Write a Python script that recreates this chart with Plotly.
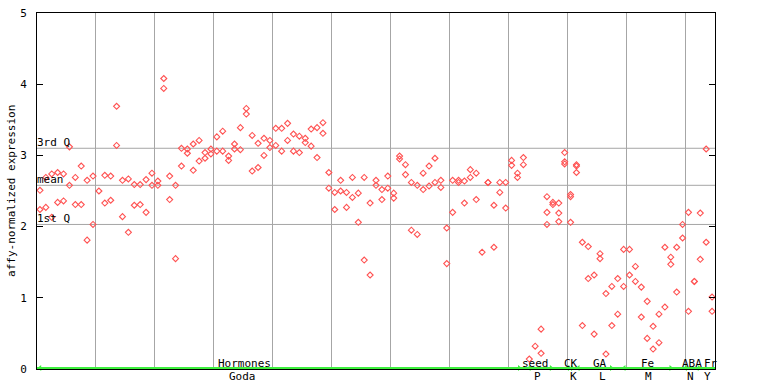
import plotly.graph_objects as go

# ---------------- data ----------------
rep_a = [2.51, 2.69, 2.74, 2.76, 2.74, 3.12, 2.69, 2.85, 2.65, 2.71,
         2.50, 2.72, 2.71, 3.69, 2.65, 2.67, 2.59, 2.59, 2.66, 2.75,
         2.64, 4.08, 2.71, 2.58, 3.10, 3.09, 3.16, 3.21, 3.04, 3.09,
         3.26, 3.34, 2.99, 3.16, 3.39, 3.66, 3.28, 3.17, 3.24, 3.21,
         3.38, 3.38, 3.45, 3.30, 3.27, 3.24, 3.37, 3.39, 3.46, 2.76,
         2.48, 2.65, 2.48, 2.69, 2.47, 2.69, 2.33, 2.65, 2.52, 2.71,
         2.47, 2.99, 2.87, 2.62, 2.58, 2.75, 2.85, 2.96, 2.65, 1.98,
         2.65, 2.65, 2.64, 2.80, 2.75, 1.64, 2.62, 2.30, 2.62, 2.62,
         2.93, 2.75, 2.97, 0.14, 0.32, 0.56, 2.42, 2.34, 2.33, 3.04,
         2.45, 2.87, 1.78, 1.72, 1.32, 1.62, 1.06, 1.16, 1.27, 1.68,
         1.68, 1.44, 1.15, 0.95, 0.60, 0.77, 1.71, 1.57, 1.71, 2.03,
         2.20, 1.23, 2.19, 3.09, 1.01]
rep_b = [2.24, 2.27, 2.13, 2.34, 2.36, 2.58, 2.31, 2.31, 1.81, 2.03,
         None, 2.33, 2.37, 3.14, 2.14, 1.92, 2.30, 2.31, 2.20, 2.58,
         2.58, 3.94, 2.38, 1.55, 2.85, 3.03, 2.79, 2.92, 2.96, 3.02,
         3.06, 3.06, 2.93, 3.09, 3.08, 3.58, 2.78, 2.83, 3.00, 3.11,
         3.14, 3.06, 3.21, 3.06, 3.04, 3.18, 3.13, 2.97, 3.31, 2.54,
         2.24, 2.50, 2.27, 2.41, 2.06, 1.53, 1.32, 2.58, 2.38, 2.54,
         2.40, 2.95, 2.73, 1.95, 1.89, 2.52, 2.57, 2.62, 2.55, 1.48,
         2.20, 2.62, 2.33, 2.69, 2.38, None, 2.62, 1.71, 2.48, 2.26,
         2.86, 2.69, 2.87, None, None, 0.22, 2.20, 2.31, 2.19, 2.91,
         2.42, 2.85, 0.61, 1.27, 0.49, 1.55, 0.21, 0.61, 0.77, 1.16,
         1.32, 1.23, 0.73, 0.43, 0.28, 0.37, 0.87, 1.47, 1.08, 1.84,
         0.81, 1.23, 1.54, 1.78, 0.81]
rep_c_sample = [86, 88, 89, 90, 91]
rep_c_value = [2.03, 2.07, 2.88, 2.06, 2.76]

q1_value = 2.03
mean_value = 2.58
q3_value = 3.10

groups_top = ["Hormones", "seed", "CK", "GA", "Fe", "ABA", "Fr"]
groups_bottom = ["Goda", "P", "K", "L", "M", "N", "Y"]
top_label_pos = [35.2, 84.6, 90.6, 95.5, 103.5, 111.1, 114.3]
bottom_label_pos = [34.9, 84.9, 91.0, 95.9, 103.8, 110.8, 113.8]
arrow_left_pos = [0.5, 83.5, 90.0, 91.8, 99.6, 110.0]
arrow_right_pos = [81.8, 87.2, 90.8, 97.4, 107.5, 112.3]

n_samples = len(rep_a)
xs = [i + 0.5 for i in range(n_samples)]

FONT = "DejaVu Sans Mono"
RED = "#ff5252"
GRID = "#a6a6a6"
GREEN = "#3df03d"

fig = go.Figure()
marker = dict(symbol="diamond-open", size=4.6, color=RED, line=dict(width=1.1, color=RED))
fig.add_trace(go.Scatter(x=xs, y=rep_a, mode="markers", marker=marker, showlegend=False))
fig.add_trace(go.Scatter(x=xs, y=rep_b, mode="markers", marker=marker, showlegend=False))
fig.add_trace(go.Scatter(x=[s + 0.5 for s in rep_c_sample], y=rep_c_value, mode="markers",
                         marker=marker, showlegend=False))

# green group arrows
fig.add_trace(go.Scatter(x=arrow_left_pos, y=[0.014] * len(arrow_left_pos), mode="markers",
                         marker=dict(symbol="triangle-left", size=5, color=GREEN),
                         showlegend=False, cliponaxis=False))
fig.add_trace(go.Scatter(x=arrow_right_pos, y=[0.014] * len(arrow_right_pos), mode="markers",
                         marker=dict(symbol="triangle-right", size=5, color=GREEN),
                         showlegend=False, cliponaxis=False))

shapes = []
for v in (q1_value, mean_value, q3_value):
    shapes.append(dict(type="line", xref="paper", x0=0, x1=1, yref="y", y0=v, y1=v,
                       line=dict(color=GRID, width=1), layer="below"))
shapes.append(dict(type="line", xref="x", x0=0, x1=n_samples, yref="y", ysizemode="pixel",
                   yanchor=0, y0=1, y1=1, line=dict(color=GREEN, width=2), layer="above"))

annotations = []
for txt, v in (("3rd Q", q3_value), ("mean", mean_value), ("1st Q", q1_value)):
    annotations.append(dict(text=txt, x=0, xref="x", y=v, yref="y", xanchor="left",
                            yanchor="bottom", showarrow=False, xshift=-2, yshift=-3,
                            font=dict(family=FONT, size=11, color="black")))
for txt, p in zip(groups_top, top_label_pos):
    annotations.append(dict(text=txt, x=p, xref="x", y=0, yref="y", xanchor="center",
                            yanchor="middle", yshift=6, showarrow=False,
                            font=dict(family=FONT, size=11, color="black")))
for txt, p in zip(groups_bottom, bottom_label_pos):
    annotations.append(dict(text=txt, x=p, xref="x", y=0, yref="y", xanchor="center",
                            yanchor="middle", yshift=-7, showarrow=False,
                            font=dict(family=FONT, size=11, color="black")))
annotations.append(dict(text="affy-normalized expression", textangle=-90, x=-0.0385, xref="paper",
                        y=0.5, yref="paper", xanchor="center", yanchor="middle", showarrow=False,
                        font=dict(family=FONT, size=11, color="black")))

fig.update_layout(
    width=768, height=384,
    margin=dict(l=37, r=53, t=13, b=15, autoexpand=False),
    paper_bgcolor="white", plot_bgcolor="white",
    shapes=shapes, annotations=annotations,
    xaxis=dict(range=[0, n_samples], tick0=0, dtick=10, showgrid=True, gridcolor=GRID, gridwidth=1,
               showticklabels=False, ticks="", zeroline=False, showline=True, linecolor="black",
               linewidth=1, mirror=True, automargin=False),
    yaxis=dict(range=[0, 5], tick0=0, dtick=1, showgrid=False, zeroline=False, showline=True,
               linecolor="black", linewidth=1, mirror="ticks", ticks="inside", ticklen=6,
               tickcolor="black", tickwidth=1, ticklabelstandoff=7, automargin=False,
               tickfont=dict(family=FONT, size=11, color="black")),
)

fig.write_html("out.html", config={"displayModeBar": False},
               post_script="document.body.style.margin='0';")
